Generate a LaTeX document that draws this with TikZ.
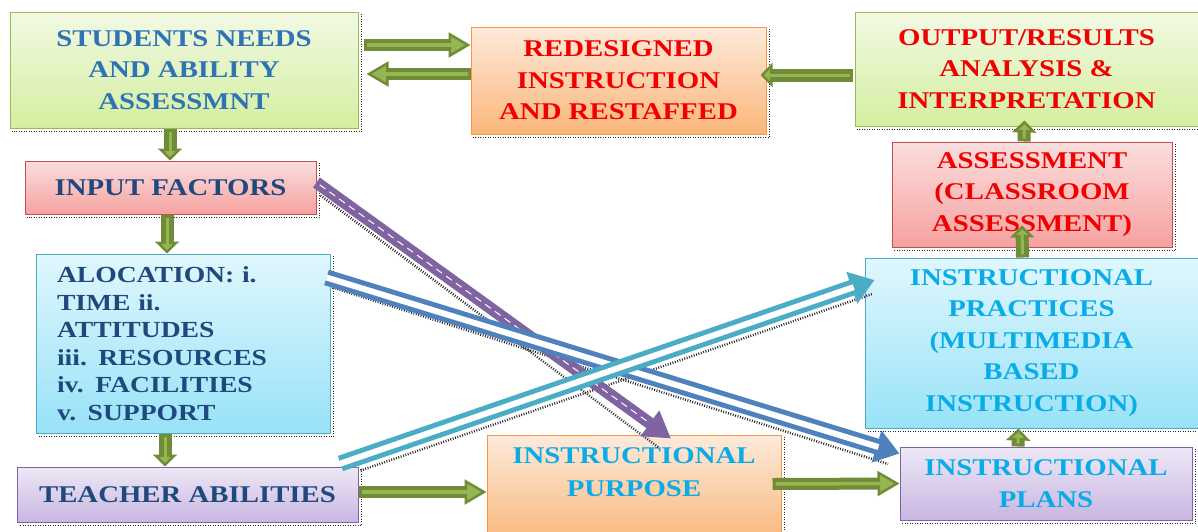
\documentclass[tikz,border=0pt]{standalone}
\usepackage{fontspec}
\newfontfamily\boxfont[FakeStretch=1.2]{Liberation Serif}
\usetikzlibrary{arrows.meta}

% box fills and borders
\definecolor{grnT}{RGB}{242,249,228}
\definecolor{grnB}{RGB}{212,239,160}
\definecolor{grnD}{RGB}{155,187,89}
\definecolor{orgT}{RGB}{253,234,218}
\definecolor{orgB}{RGB}{250,182,122}
\definecolor{orgD}{RGB}{247,150,70}
\definecolor{pnkT}{RGB}{251,222,222}
\definecolor{pnkB}{RGB}{245,162,160}
\definecolor{pnkD}{RGB}{192,80,77}
\definecolor{cynT}{RGB}{224,247,253}
\definecolor{cynB}{RGB}{152,226,248}
\definecolor{cynD}{RGB}{75,172,198}
\definecolor{lavT}{RGB}{238,232,246}
\definecolor{lavB}{RGB}{200,182,226}
\definecolor{lavD}{RGB}{128,100,162}
% text colours
\definecolor{txtBlue}{RGB}{46,116,181}
\definecolor{txtRed}{RGB}{240,0,0}
\definecolor{txtNavy}{RGB}{31,73,125}
\definecolor{txtCyan}{RGB}{10,172,232}
% connector colours
\definecolor{olv}{RGB}{112,140,55}
\definecolor{olvL}{RGB}{150,182,84}
\definecolor{purp}{RGB}{128,100,162}
\definecolor{blu}{RGB}{79,129,189}
\definecolor{tealc}{RGB}{75,172,198}

\begin{document}
\begin{tikzpicture}[x=1pt,y=-1pt,
  box/.style={line width=1pt, align=center, inner sep=2pt,
    font=\boxfont\bfseries\fontsize{24}{31.5}\selectfont},
  greenbox/.style={box, draw=grnD, top color=grnT, bottom color=grnB},
  orangebox/.style={box, draw=orgD, top color=orgT, bottom color=orgB},
  pinkbox/.style={box, draw=pnkD, top color=pnkT, bottom color=pnkB},
  cyanbox/.style={box, draw=cynD, top color=cynT, bottom color=cynB},
  lavbox/.style={box, draw=lavD, top color=lavT, bottom color=lavB},
  dotline/.style={draw=black!85, line width=1.4pt, dash pattern=on 0.9pt off 1.6pt},
  garrow/.style={draw=olv, line width=12pt,
    -{Triangle[length=22pt,width=25pt,fill=olvL,line width=2.5pt]},
    postaction={draw=olvL, line width=3.5pt, -, shorten >=14pt, shorten <=3pt}},
  gshort/.style={draw=olv, line width=13pt,
    -{Triangle[length=12pt,width=24pt,fill=olvL,line width=2.5pt]},
    postaction={draw=olvL, line width=3pt, -, shorten >=9pt, shorten <=3pt}},
  purparrow/.style={draw=purp, line width=12pt,
    -{Triangle[length=26pt,width=30pt]},
    postaction={draw=white, line width=1pt, dash pattern=on 7pt off 5pt, -, shorten >=28pt, shorten <=4pt}},
  hollowarrow/.style={draw=#1, line width=16pt,
    -{Triangle[length=24pt,width=32pt]},
    postaction={draw=white, line width=6pt, -, shorten >=22pt}}
]
\fill[white] (0,0) rectangle (1198,531);
\useasboundingbox (0,0) rectangle (1198,531);

% boxes
\node[greenbox, text=txtBlue, minimum width=348pt, minimum height=116pt] (students) at (184,70)
  {STUDENTS NEEDS\\AND ABILITY\\ASSESSMNT};
\node[orangebox, text=txtRed, minimum width=295pt, minimum height=107pt] (redesign) at (618.5,80.5)
  {REDESIGNED\\INSTRUCTION\\AND RESTAFFED};
\node[greenbox, text=txtRed, minimum width=343pt, minimum height=114pt] (output) at (1026.5,69)
  {OUTPUT/RESULTS\\ANALYSIS \&\\INTERPRETATION};
\node[pinkbox, text=txtNavy, minimum width=291pt, minimum height=53pt] (input) at (170.5,187.5)
  {INPUT FACTORS};
\node[pinkbox, text=txtRed, minimum width=280pt, minimum height=105pt] (assess) at (1032,194.5)
  {ASSESSMENT\\(CLASSROOM\\ASSESSMENT)};
\node[cyanbox, text=txtNavy, minimum width=294pt, minimum height=179pt, align=left,
  text width=252pt, inner xsep=21pt, font=\boxfont\bfseries\fontsize{23}{27.5}\selectfont] (alloc) at (183,343.5)
  {ALOCATION: i.\\TIME ii.\\ATTITUDES\\iii. RESOURCES\\iv. FACILITIES\\v. SUPPORT};
\node[lavbox, text=txtNavy, minimum width=341pt, minimum height=55pt] (teacher) at (187.5,494.5)
  {TEACHER ABILITIES};
\node[orangebox, minimum width=294pt, minimum height=110pt] (purpose) at (634,490) {};
\node[font=\boxfont\bfseries\fontsize{24}{33}\selectfont, text=txtCyan, align=center] (purposetext) at (634,472)
  {INSTRUCTIONAL\\PURPOSE};
\node[cyanbox, text=txtCyan, minimum width=333pt, minimum height=170pt] (practices) at (1031.5,343)
  {INSTRUCTIONAL\\PRACTICES\\(MULTIMEDIA\\BASED\\INSTRUCTION)};
\node[lavbox, text=txtCyan, minimum width=292pt, minimum height=73pt] (plans) at (1046,483.5)
  {INSTRUCTIONAL\\PLANS};

% dotted drop shadows along the right and lower edges
\foreach \n in {students,redesign,output,input,assess,alloc,teacher,purpose,practices,plans}
  \draw[dotline] ([shift={(3pt,-2pt)}]\n.north east) -- ([shift={(3pt,-3pt)}]\n.south east)
    -- ([shift={(2pt,-3pt)}]\n.south west);

% stippled shadows under the long diagonal connectors
\draw[dotline, line width=2.5pt] ([shift={(4pt,-8pt)}]input.east) -- (658,447);
\draw[dotline, line width=2.5pt] ([shift={(2pt,56pt)}]alloc.east) -- (888,464);
\draw[dotline, line width=2.5pt] ([shift={(2pt,-4pt)}]teacher.north east) -- (872,294);

% long diagonal connectors
\draw[purparrow] ([yshift=5pt]input.east) -- ([xshift=37pt,yshift=-4pt]purpose.north);
\draw[hollowarrow=blu] ([shift={(-4pt,66pt)}]alloc.east) -- ([yshift=30pt]plans.west);
\draw[hollowarrow=tealc] ([shift={(-18pt,3pt)}]teacher.north east) -- ([shift={(10pt,63pt)}]practices.west);

% block arrows between neighbouring boxes
\draw[garrow] ([shift={(5pt,25pt)}]students.east) -- ([yshift=35.5pt]redesign.west);
\draw[garrow] ([yshift=6.5pt]redesign.west) -- ([shift={(8pt,-4pt)}]students.east);
\draw[gshort] ([shift={(-2pt,-6pt)}]output.west) -- ([shift={(-6pt,5.5pt)}]redesign.east);
\draw[gshort] ([xshift=-14pt]students.south) -- ([xshift=-0.5pt]input.north);
\draw[gshort] ([xshift=-3.5pt]input.south) -- ([xshift=-16pt]alloc.north);
\draw[gshort] ([xshift=-18pt]alloc.south) -- ([xshift=-22.5pt]teacher.north);
\draw[garrow] ([yshift=2.5pt]teacher.east) -- ([yshift=-2pt]purpose.west);
\draw[garrow] ([shift={(-9pt,6pt)}]purpose.east) -- (plans.west);
\draw[gshort] ([xshift=-28pt]plans.north) -- ([xshift=-13pt]practices.south);
\draw[gshort] ([xshift=-9pt]practices.north) -- ([shift={(-10pt,22pt)}]assess.south);
\draw[gshort] ([xshift=-8pt]assess.north) -- ([shift={(-2pt,6pt)}]output.south);
\end{tikzpicture}
\end{document}
